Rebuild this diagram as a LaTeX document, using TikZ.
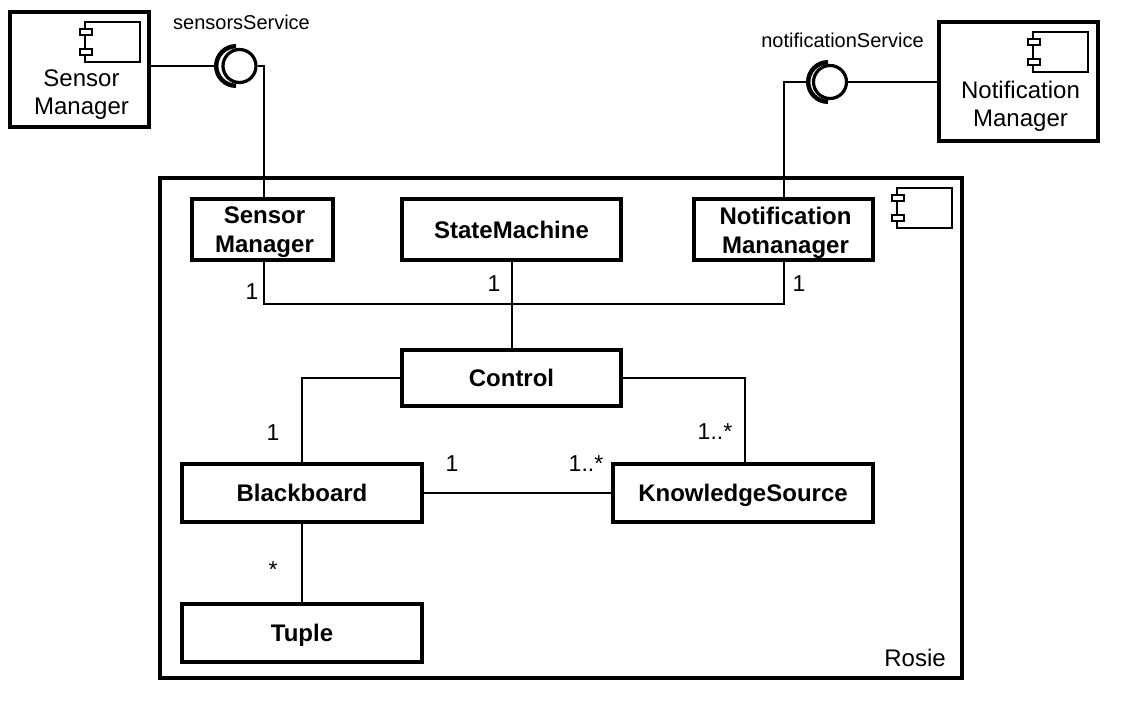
\documentclass[tikz,border=0pt]{standalone}
\usepackage{fontspec}
\setmainfont{Liberation Sans}
\usetikzlibrary{calc}
\tikzset{
  x=1pt,y=-1pt,
  cbox/.style={draw=black,line width=4pt,fill=white,inner sep=0pt,align=center,
    font=\fontsize{24}{29}\selectfont\bfseries},
  oneline/.style={text height=17.2pt,text depth=0pt},
  extbox/.style={draw=black,line width=4.5pt,fill=white,inner sep=0pt},
  exttext/.style={inner sep=0pt,align=center,font=\fontsize{24}{28.5}\selectfont},
  conn/.style={draw=black,line width=2pt},
  lbl/.style={inner sep=0pt,font=\fontsize{23}{26}\selectfont},
  svc/.style={inner sep=0pt,font=\fontsize{20}{24}\selectfont},
  ball/.style={circle,draw=black,line width=3.2pt,fill=white,inner sep=0pt,minimum size=33pt},
  iconline/.style={draw=black,line width=2pt},
  pics/compicon/.style={code={
    \draw[iconline] (0,0) rectangle (55,40);
    \draw[iconline,fill=white] (-5.5,7) rectangle (6.5,13);
    \draw[iconline,fill=white] (-5.5,27) rectangle (6.5,33);
  }}
}
\begin{document}
\begin{tikzpicture}
\useasboundingbox (0,0) rectangle (1138,718);
\fill[white] (0,0) rectangle (1138,718);
% Rosie frame
\node[draw=black,line width=4pt,minimum width=802pt,minimum height=500pt,inner sep=0pt] (rosie) at (561,428) {};
\pic at (897,187.5) {compicon};
\node[exttext,oneline] (rosielabel) at (915,658) {Rosie};
% external components
\node[extbox,minimum width=139pt,minimum height=115pt] (extsm) at (79.5,69.5) {};
\pic at (85,22) {compicon};
\node[exttext] (extsmt) at (81.5,94.5) {Sensor\\Manager};
\node[extbox,minimum width=159pt,minimum height=119pt] (extnm) at (1018.5,81.5) {};
\pic at (1033,32) {compicon};
\node[exttext] (extnmt) at (1020.5,106.5) {Notification\\Manager};
% internal components
\node[cbox,minimum width=141pt,minimum height=61pt] (sm) at (262.5,229.5) {};
\node[cbox,minimum width=219pt,minimum height=61pt,oneline] (state) at (511.5,229.5) {StateMachine};
\node[cbox,minimum width=179pt,minimum height=61pt] (nm) at (783.5,229.5) {};
\node[cbox,minimum width=219pt,minimum height=56pt,oneline] (control) at (511.5,378) {Control};
\node[cbox,minimum width=240pt,minimum height=58pt,oneline] (bb) at (302,493) {Blackboard};
\node[cbox,minimum width=260pt,minimum height=58pt,oneline] (ks) at (743,493) {KnowledgeSource};
\node[cbox,minimum width=240pt,minimum height=58pt,oneline] (tuple) at (302,633) {Tuple};
\node[inner sep=0pt,align=center,font=\fontsize{24}{29}\selectfont\bfseries] (smt) at (264.5,232.5) {Sensor\\Manager};
\node[inner sep=0pt,align=center,font=\fontsize{24}{29}\selectfont\bfseries] (nmt) at (785.5,232.5) {Notification\\Mananager};
% lollipops
\coordinate (ss) at (239.5,66);
\coordinate (ns) at (830,82);
\draw[line width=4.4pt] (236,46.2) arc[start angle=-90,end angle=-270,radius=19.8,x=1pt,y=1pt];
\draw[line width=4.4pt] (828,62.2) arc[start angle=-90,end angle=-270,radius=19.8,x=1pt,y=1pt];
\node[ball] (ssb) at (ss) {};
\node[ball] (nsb) at (ns) {};
\node[svc] (sst) at (241.5,22) {sensorsService};
\node[svc] (nst) at (842.5,40.5) {notificationService};
% connectors
\coordinate (ssc) at (215,66);
\coordinate (nsc) at (807,82);
\draw[conn] (extsm.east |- ss) -- (ssc);
\draw[conn] (ssb.east) -- (264,66) -- (264,197);
\draw[conn] (extnm.west |- ns) -- (nsb.east);
\draw[conn] (nsc) -- (784,82) -- (784,197);
\draw[conn] (264,262) -- (264,304) -- (784,304) -- (784,262);
\draw[conn] (state.south) -- (control.north);
\draw[conn] (control.west) -| (bb.north);
\draw[conn] (control.east) -| (745,462);
\draw[conn] (bb.east) -- (ks.west);
\draw[conn] (bb.south) -- (tuple.north);
% multiplicities
\node[lbl] (m1) at (252,292) {1};
\node[lbl] (m2) at (494,284) {1};
\node[lbl] (m3) at (799,284) {1};
\node[lbl] (m4) at (273,433) {1};
\node[lbl] (m5) at (452,464) {1};
\node[lbl] (m6) at (586,464) {1..*};
\node[lbl] (m7) at (715,432) {1..*};
\node[lbl] (m8) at (273,570) {*};
\end{tikzpicture}
\end{document}
